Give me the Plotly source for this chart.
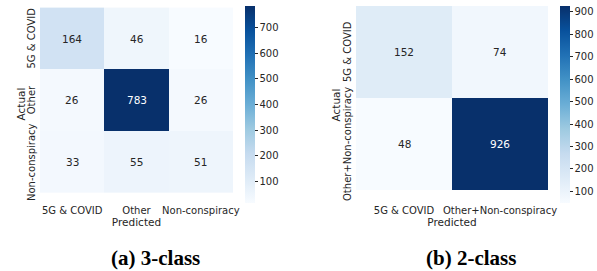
import plotly.graph_objects as go

# Data
labels_a = ["5G & COVID", "Other", "Non-conspiracy"]
cm_a = [[164, 46, 16],
        [26, 783, 26],
        [33, 55, 51]]
labels_b = ["5G & COVID", "Other+Non-conspiracy"]
cm_b = [[152, 74],
        [48, 926]]
ticks_a = [100, 200, 300, 400, 500, 600, 700]
ticks_b = [100, 200, 300, 400, 500, 600, 700, 800, 900]
titles = ["(a) 3-class", "(b) 2-class"]

W, H = 597, 271
TXT = "#262626"
FONT = "DejaVu Sans"

def px_x(p):
    return p / W

def px_y(p):
    return 1 - p / H

def text_colors(cm):
    mx = max(max(r) for r in cm)
    mn = min(min(r) for r in cm)
    return [["white" if (v - mn) / (mx - mn) > 0.5 else TXT for v in row] for row in cm]

fig = go.Figure()

panels = [
    dict(cm=cm_a, labels=labels_a, ticks=ticks_a, xd=(40, 233), cb=245, ax="", ca="coloraxis",
         ytl=31, ytt=20, title_x=155),
    dict(cm=cm_b, labels=labels_b, ticks=ticks_b, xd=(356, 548), cb=560, ax="2", ca="coloraxis2",
         ytl=347, ytt=335, title_x=471),
]

ytop, ybot = 6, 203
for i, p in enumerate(panels):
    cm = p["cm"]
    fig.add_trace(go.Heatmap(
        z=cm, x=p["labels"], y=p["labels"],
        coloraxis=p["ca"],
        xaxis="x" + p["ax"], yaxis="y" + p["ax"],
        hoverinfo="skip",
    ))
    cols = text_colors(cm)
    for r, row in enumerate(cm):
        for c, v in enumerate(row):
            fig.add_annotation(
                x=p["labels"][c], y=p["labels"][r], text=str(v),
                xref="x" + p["ax"], yref="y" + p["ax"], showarrow=False,
                font=dict(family=FONT, size=10.5, color=cols[r][c]),
            )
    # y tick labels (rotated, close to the heatmap)
    for lab in p["labels"]:
        fig.add_annotation(
            x=px_x(p["ytl"]), y=lab, xref="paper", yref="y" + p["ax"],
            text=lab, textangle=-90, showarrow=False,
            xanchor="center", yanchor="middle",
            font=dict(family=FONT, size=10, color=TXT),
        )
    fig.add_annotation(
        x=px_x(p["ytt"]), y=px_y((ytop + ybot) / 2), xref="paper", yref="paper",
        text="Actual", textangle=-90, showarrow=False,
        xanchor="center", yanchor="middle",
        font=dict(family=FONT, size=10.5, color=TXT),
    )
    flat = [v for row in cm for v in row]
    fig.update_layout(**{
        p["ca"]: dict(
            colorscale="Blues", cmin=min(flat), cmax=max(flat),
            colorbar=dict(
                x=px_x(p["cb"]), xanchor="left", thickness=10, xpad=0, ypad=0,
                y=px_y((ytop + ybot) / 2), yanchor="middle",
                len=(ybot - ytop) / H, lenmode="fraction",
                tickvals=p["ticks"], ticks="outside", ticklen=3,
                tickcolor=TXT, outlinewidth=0,
                tickfont=dict(family=FONT, size=10, color=TXT),
            ),
        ),
        "xaxis" + p["ax"]: dict(
            domain=[px_x(p["xd"][0]), px_x(p["xd"][1])],
            anchor="y" + p["ax"], showgrid=False, zeroline=False,
            tickfont=dict(family=FONT, size=10, color=TXT),
            title=dict(text="Predicted", font=dict(family=FONT, size=10.5, color=TXT), standoff=0),
            ticks="", automargin=False,
        ),
        "yaxis" + p["ax"]: dict(
            domain=[px_y(ybot), px_y(ytop)],
            anchor="x" + p["ax"], showgrid=False, zeroline=False,
            autorange="reversed", showticklabels=False, ticks="", automargin=False,
        ),
    })
    fig.add_annotation(
        x=px_x(p["title_x"]), y=px_y(258), xref="paper", yref="paper",
        text="<b>" + titles[i] + "</b>", showarrow=False,
        font=dict(family="Liberation Serif", size=21, color="black"),
        xanchor="center", yanchor="middle",
    )

fig.update_layout(
    width=W, height=H, margin=dict(l=0, r=0, t=0, b=0, autoexpand=False),
    paper_bgcolor="white", plot_bgcolor="white", showlegend=False,
)
fig.write_html("out.html", config={"displayModeBar": False},
               post_script="document.body.style.margin='0px';")
